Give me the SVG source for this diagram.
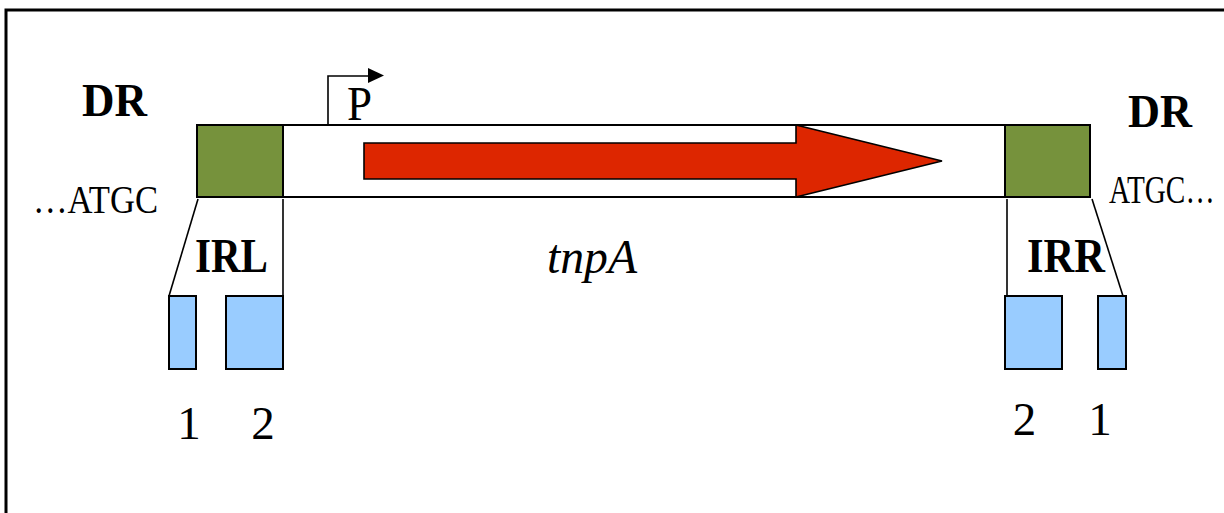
<svg xmlns="http://www.w3.org/2000/svg" width="1224" height="513" viewBox="0 0 1224 513">
  <style>
    .t { font-family: "Liberation Serif", "Times New Roman", serif; fill: #000; }
    .b { font-weight: bold; }
    .dr { fill: #76923C; stroke: #000; stroke-width: 2; }
    .ir { fill: #99CCFF; stroke: #000; stroke-width: 2; }
    .ln { stroke: #000; stroke-width: 1.6; fill: none; }
  </style>
  <rect width="1224" height="513" fill="#fff"/>
  <!-- frame (top and left edges) -->
  <path d="M6,513 V10 H1224" fill="none" stroke="#000" stroke-width="3"/>

  <!-- transposon body -->
  <g id="element">
    <rect x="197" y="125" width="893" height="72" fill="#fff" stroke="#000" stroke-width="2"/>
  </g>
  <g id="tnpA-gene">
    <polygon points="364,143 796,143 796,125 942,161 796,197 796,179 364,179" fill="#DD2600" stroke="#000" stroke-width="1.6"/>
    <text class="t" x="547" y="273" font-size="48" font-style="italic" textLength="90" lengthAdjust="spacingAndGlyphs">tnpA</text>
  </g>
  <g id="promoter">
    <path class="ln" d="M328,125 V76 H370" stroke-width="2"/>
    <polygon points="368,68 384,75.5 368,83" fill="#000"/>
    <text class="t" x="347" y="120" font-size="48" textLength="25" lengthAdjust="spacingAndGlyphs">P</text>
  </g>

  <!-- left end -->
  <g id="DR-left">
    <rect class="dr" x="197" y="125" width="86" height="72"/>
    <text class="t b" x="82" y="116" font-size="47" textLength="65" lengthAdjust="spacingAndGlyphs">DR</text>
    <text class="t" x="33" y="213" font-size="40" textLength="125" lengthAdjust="spacingAndGlyphs">…ATGC</text>
  </g>
  <g id="IRL">
    <rect class="ir" x="169" y="296" width="27" height="73"/>
    <rect class="ir" x="226" y="296" width="57" height="73"/>
    <text class="t b" x="195" y="272" font-size="48" textLength="73" lengthAdjust="spacingAndGlyphs">IRL</text>
    <text class="t" x="189" y="439" font-size="47" text-anchor="middle">1</text>
    <text class="t" x="263" y="439" font-size="47" text-anchor="middle">2</text>
  </g>

  <!-- right end -->
  <g id="DR-right">
    <rect class="dr" x="1005" y="125" width="85" height="72"/>
    <text class="t b" x="1128" y="127" font-size="47" textLength="64" lengthAdjust="spacingAndGlyphs">DR</text>
    <text class="t" transform="translate(1109,203) scale(0.75,1)" font-size="39">ATGC…</text>
  </g>
  <g id="IRR">
    <rect class="ir" x="1005" y="296" width="57" height="73"/>
    <rect class="ir" x="1098" y="296" width="28" height="73"/>
    <text class="t b" x="1027" y="272" font-size="48" textLength="78" lengthAdjust="spacingAndGlyphs">IRR</text>
    <text class="t" x="1024.5" y="435" font-size="47" text-anchor="middle">2</text>
    <text class="t" x="1100" y="435" font-size="47" text-anchor="middle">1</text>
  </g>

  <!-- expansion lines from each terminal region to its inverted repeats -->
  <g id="connectors">
    <line class="ln" x1="198" y1="199" x2="169" y2="296"/>
    <line class="ln" x1="283" y1="199" x2="283" y2="296"/>
    <line class="ln" x1="1007" y1="199" x2="1007" y2="296"/>
    <line class="ln" x1="1092" y1="199" x2="1123" y2="296"/>
  </g>
</svg>
